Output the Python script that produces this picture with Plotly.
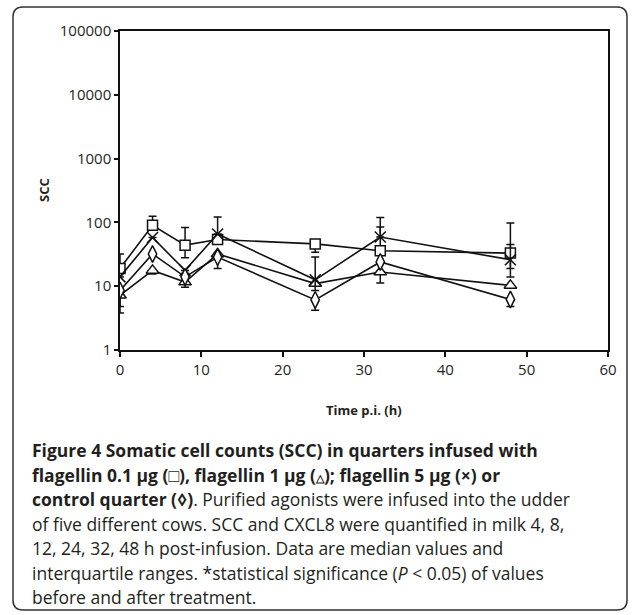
import plotly.graph_objects as go

# ---- data ----
times = [0, 4, 8, 12, 24, 32, 48]

flag01 = [19, 90, 44, 54, 46, 36, 33]          # flagellin 0.1 µg (square)
flag01_hi = [32, 125, 83, 122, None, 85, 98]
flag01_lo = [None, None, 28, None, 34, None, 19]

flag1 = [7.2, 17.7, 11.6, 32, 11, 16.7, 10.3]  # flagellin 1 µg (triangle)
flag1_hi = [None, None, None, None, None, None, None]
flag1_lo = [4.8, 15.5, 9.6, 19, None, 11.2, None]

flag5 = [14, 58, 17.7, 66, 12.6, 59, 26]       # flagellin 5 µg (x)
flag5_hi = [None, None, None, None, 28.6, 119, 45]
flag5_lo = [None, None, None, None, 8.6, None, 14]

control = [8.6, 32, 14, 28.6, 6.1, 24, 6.2]    # control quarter (diamond)
control_hi = [None, None, None, None, None, None, None]
control_lo = [3.8, None, None, None, 4.2, None, 4.8]

y_tickvals = [1, 10, 100, 1000, 10000, 100000]
y_ticktext = ["1", "10", "100", "1000", "10000", "100000"]
x_tickvals = [0, 10, 20, 30, 40, 50, 60]

caption_lines = [
    "<b>Figure 4 Somatic cell counts (SCC) in quarters infused with</b>",
    "<b>flagellin 0.1 µg (□), flagellin 1 µg (<span style='font-size:11px'>△</span>); flagellin 5 µg (×) or</b>",
    "<b>control quarter (◊)</b>. Purified agonists were infused into the udder",
    "of five different cows. SCC and CXCL8 were quantified in milk 4, 8,",
    "12, 24, 32, 48 h post-infusion. Data are median values and",
    "interquartile ranges. *statistical significance (<i>P</i> &lt; 0.05) of values",
    "before and after treatment.",
]

# ---- layout geometry ----
W, H = 633, 615
L, R, T, B = 120, 25, 31, 265
PW, PH = W - L - R, H - T - B


def px(x):
    return (x - L) / PW


def py(y):
    return (H - B - y) / PH


def errs(vals, hi, lo):
    up = [(h - v) if h is not None else None for v, h in zip(vals, hi)]
    dn = [(v - l) if l is not None else None for v, l in zip(vals, lo)]
    return up, dn


fig = go.Figure()

series = [
    (flag01, flag01_hi, flag01_lo, "square", 10, "flagellin 0.1 µg"),
    (flag1, flag1_hi, flag1_lo, "triangle-up", 11, "flagellin 1 µg"),
    (flag5, flag5_hi, flag5_lo, "x-thin", 11, "flagellin 5 µg"),
    (control, control_hi, control_lo, "diamond-tall", 12, "control quarter"),
]

for vals, hi, lo, sym, size, name in series:
    up, dn = errs(vals, hi, lo)
    fig.add_trace(go.Scatter(
        x=times, y=vals, name=name, mode="lines+markers",
        line=dict(color="#111111", width=1.6),
        marker=dict(symbol=sym, size=size, color="white",
                    line=dict(color="#111111", width=1.5)),
        error_y=dict(type="data", symmetric=False, array=up, arrayminus=dn,
                     color="#111111", thickness=1.5, width=4),
        showlegend=False,
    ))

fig.update_xaxes(
    range=[0, 60], tickvals=x_tickvals, ticks="outside", ticklen=5,
    tickwidth=1.5, tickcolor="#111111", showline=True, linecolor="#111111",
    linewidth=1.5, mirror=True, showgrid=False, zeroline=False,
    tickfont=dict(family="Open Sans", size=15, color="#231f20"),
)
fig.update_yaxes(
    type="log", range=[0, 5], tickvals=y_tickvals, ticktext=y_ticktext,
    ticks="outside", ticklen=4, tickwidth=1.5, tickcolor="#111111",
    showline=True, linecolor="#111111", linewidth=1.5, mirror=True,
    showgrid=False, zeroline=False,
    tickfont=dict(family="Open Sans", size=15, color="#231f20"),
)

annotations = [
    dict(text="<b>SCC</b>", x=px(44), y=py(190), textangle=-90,
         font=dict(family="Open Sans", size=13, color="#231f20")),
    dict(text="<b>Time p.i. (h)</b>", x=px(364), y=py(410),
         font=dict(family="Open Sans", size=13, color="#231f20")),
]
line_y0, line_dy = 450, 24.5
for i, t in enumerate(caption_lines):
    annotations.append(dict(
        text=t, x=px(30), y=py(line_y0 + i * line_dy), xanchor="left",
        yanchor="middle",
        font=dict(family="Open Sans", size=17.5, color="#231f20"),
    ))
for a in annotations:
    a.update(xref="paper", yref="paper", showarrow=False)
    a.setdefault("xanchor", "center")
    a.setdefault("yanchor", "middle")

# rounded border around the whole figure
x0, x1, y0, y1, r = 13, 627, 7, 610, 10
path = (
    f"M {px(x0 + r)},{py(y0)} L {px(x1 - r)},{py(y0)} "
    f"Q {px(x1)},{py(y0)} {px(x1)},{py(y0 + r)} "
    f"L {px(x1)},{py(y1 - r)} Q {px(x1)},{py(y1)} {px(x1 - r)},{py(y1)} "
    f"L {px(x0 + r)},{py(y1)} Q {px(x0)},{py(y1)} {px(x0)},{py(y1 - r)} "
    f"L {px(x0)},{py(y0 + r)} Q {px(x0)},{py(y0)} {px(x0 + r)},{py(y0)} Z"
)

fig.update_layout(
    width=W, height=H, autosize=False,
    margin=dict(l=L, r=R, t=T, b=B, pad=0),
    paper_bgcolor="white", plot_bgcolor="white",
    annotations=annotations,
    shapes=[dict(type="path", xref="paper", yref="paper", path=path,
                 line=dict(color="#333333", width=1.5), layer="below")],
)

fig.write_html(
    "out.html",
    config={"displayModeBar": False},
    post_script="document.body.style.margin='0';document.body.style.overflow='hidden';",
)
